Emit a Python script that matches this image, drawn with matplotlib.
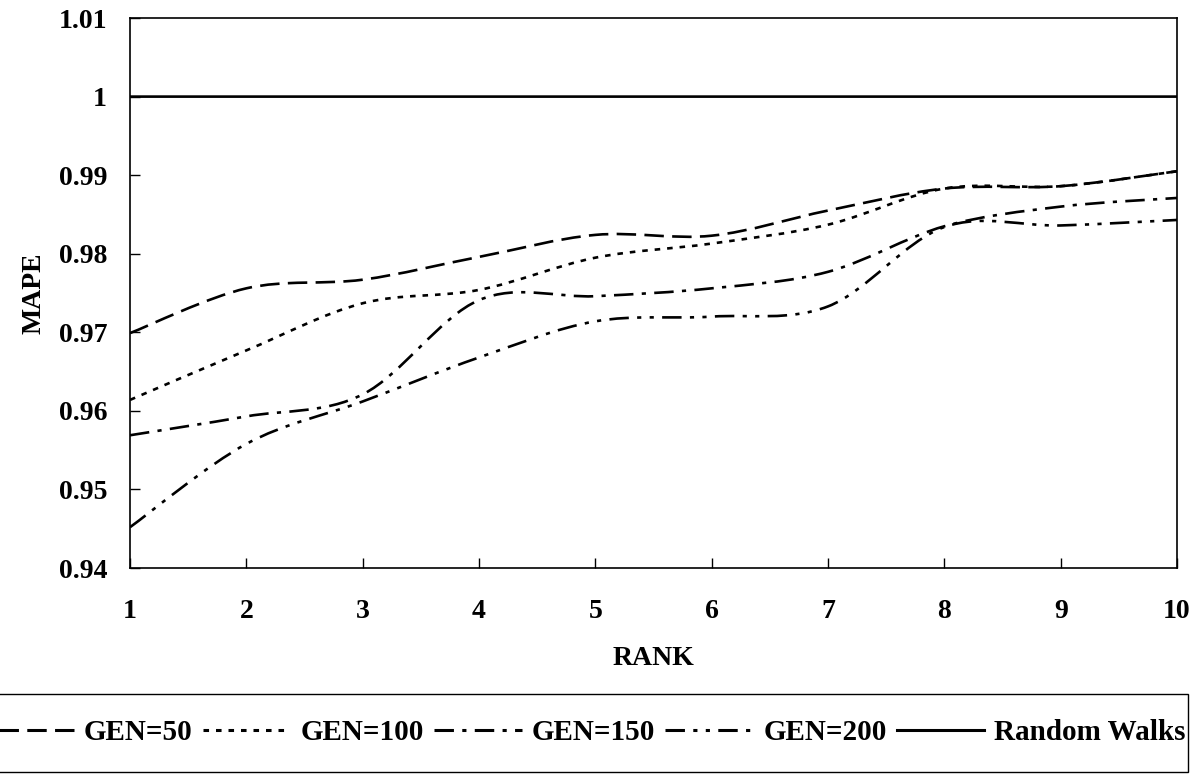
import matplotlib
matplotlib.use('Agg')
import matplotlib.pyplot as plt
from matplotlib.path import Path
from matplotlib.patches import PathPatch, Rectangle
from matplotlib.lines import Line2D

plt.rcParams['font.family'] = ['Liberation Serif', 'DejaVu Serif']
plt.rcParams['font.weight'] = 'bold'
plt.rcParams['lines.scale_dashes'] = False

# data
rank = [1, 2, 3, 4, 5, 6, 7, 8, 9, 10]
gen50 = [0.9699, 0.9756, 0.9767, 0.9796, 0.9824, 0.9823, 0.9855, 0.9883, 0.9886, 0.9905]
gen100 = [0.9614, 0.9677, 0.9737, 0.9754, 0.9795, 0.9813, 0.9837, 0.9883, 0.9886, 0.9905]
gen150 = [0.9569, 0.9593, 0.9621, 0.9741, 0.9746, 0.9756, 0.9777, 0.9835, 0.9860, 0.9871]
gen200 = [0.9452, 0.9558, 0.9612, 0.9668, 0.9714, 0.9720, 0.9733, 0.9834, 0.9836, 0.9843]
random_walks = [1, 1, 1, 1, 1, 1, 1, 1, 1, 1]

series_labels = ['GEN=50', 'GEN=100', 'GEN=150', 'GEN=200', 'Random Walks']
y_ticks = [0.94, 0.95, 0.96, 0.97, 0.98, 0.99, 1.00, 1.01]
y_tick_labels = ['0.94', '0.95', '0.96', '0.97', '0.98', '0.99', '1', '1.01']

styles = [
    (0, (14, 6)),
    (0, (4, 5)),
    (0, (14, 6, 3, 6)),
    (0, (14, 6, 3, 6, 3, 6)),
    'solid',
]


def smooth_path(x, y):
    # excel-like smoothed line: bezier segments through the data points
    verts = [(x[0], y[0])]
    codes = [Path.MOVETO]
    n = len(x)
    for i in range(n - 1):
        a = max(i - 1, 0)
        b = min(i + 2, n - 1)
        c1 = (x[i] + (x[i + 1] - x[a]) / 6, y[i] + (y[i + 1] - y[a]) / 6)
        c2 = (x[i + 1] - (x[b] - x[i]) / 6, y[i + 1] - (y[b] - y[i]) / 6)
        verts += [c1, c2, (x[i + 1], y[i + 1])]
        codes += [Path.CURVE4] * 3
    return Path(verts, codes)


fig = plt.figure(figsize=(12.04, 7.74), dpi=100)
ax = fig.add_axes([0.108, 0.2661, 0.8696, 0.7106])

all_series = [gen50, gen100, gen150, gen200, random_walks]
handles = []
for vals, ls, lab in zip(all_series, styles, series_labels):
    patch = PathPatch(smooth_path(rank, vals), fill=False, edgecolor='black',
                      linewidth=1.9, linestyle=ls, capstyle='butt')
    ax.add_patch(patch)
    handles.append(Line2D([], [], color='black', linewidth=2.2, linestyle=ls,
                          dash_capstyle='butt'))

ax.set_xlim(1, 10)
ax.set_ylim(0.94, 1.01)
ax.set_xticks(rank)
ax.set_xticklabels([str(r) for r in rank])
ax.set_yticks(y_ticks)
ax.set_yticklabels(y_tick_labels)
ax.tick_params(axis='both', direction='in', length=7, width=1, labelsize=20)
ax.tick_params(axis='x', pad=22)
ax.tick_params(axis='y', pad=16.5)
for sp in ax.spines.values():
    sp.set_linewidth(1.2)
    sp.set_color('black')

ax.set_xlabel('RANK', fontsize=20, fontweight='bold', labelpad=16)
ax.set_ylabel('MAPE', fontsize=20, fontweight='bold', labelpad=9)

# legend box, runs off the left edge like the original
fig.patches.append(Rectangle((-0.02, 1 - 772 / 774), 0.02 + 1188 / 1204, (772 - 694) / 774,
                             transform=fig.transFigure, fill=False,
                             edgecolor='black', linewidth=1.0))

leg = fig.legend(handles, series_labels, loc='center right',
                 bbox_to_anchor=(1186 / 1204, 1 - 733 / 774), ncol=5,
                 frameon=False, handlelength=3.0, handletextpad=0.35,
                 columnspacing=0.35, borderpad=0, borderaxespad=0, fontsize=21)

fig.savefig('out.png', dpi=100)
